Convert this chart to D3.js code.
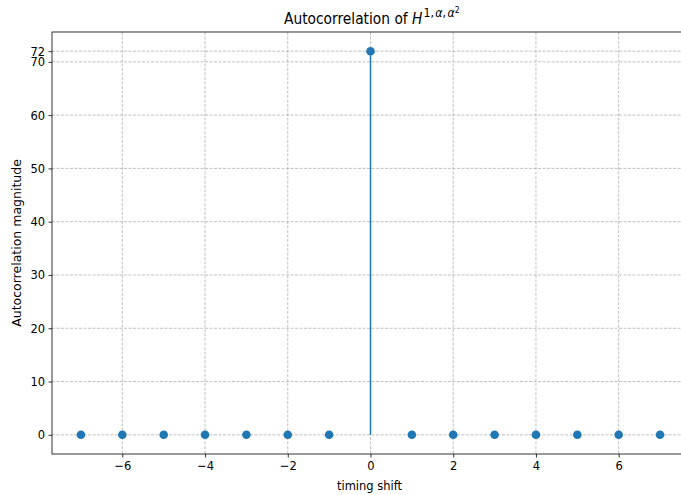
<!DOCTYPE html>
<html><head><meta charset="utf-8">
<script src="https://cdn.jsdelivr.net/npm/d3@7/dist/d3.min.js"></script>
<style>body{margin:0;background:#fff;} svg{display:block;} text{font-family:"DejaVu Sans",sans-serif;fill:#000;}</style>
</head><body>
<script>
const lags = [-7,-6,-5,-4,-3,-2,-1,0,1,2,3,4,5,6,7];
const values = [0,0,0,0,0,0,0,72,0,0,0,0,0,0,0];
const xTicks = [-6,-4,-2,0,2,4,6];
const yTicks = [0,10,20,30,40,50,60,70,72];
const titleMain = "Autocorrelation of ";
const xLabel = "timing shift";
const yLabel = "Autocorrelation magnitude";

const W = 681, H = 495;
const SX = 0.92;
const m = {left:52, right:-8, top:32, bottom:41};
const svg = d3.select("body").append("svg").attr("width",W).attr("height",H);
const x = d3.scaleLinear().domain([-7.7,7.7]).range([m.left, W-m.right]);
const y = d3.scaleLinear().domain([-3.6,75.6]).range([H-m.bottom, m.top]);

const g = svg.append("g");
// grid
g.selectAll(".gx").data(xTicks).enter().append("line")
 .attr("x1",d=>x(d)).attr("x2",d=>x(d)).attr("y1",m.top).attr("y2",H-m.bottom)
 .attr("stroke","#b0b0b0").attr("stroke-width",0.8).attr("stroke-dasharray","3,1.5");
g.selectAll(".gy").data(yTicks).enter().append("line")
 .attr("x1",m.left).attr("x2",W-m.right).attr("y1",d=>y(d)).attr("y2",d=>y(d))
 .attr("stroke","#b0b0b0").attr("stroke-width",0.8).attr("stroke-dasharray","3,1.5");

// stems
const data = lags.map((l,i)=>({l, v:values[i]}));
g.selectAll(".stem").data(data.filter(d=>d.v!==0)).enter().append("line")
 .attr("x1",d=>x(d.l)).attr("x2",d=>x(d.l)).attr("y1",y(0)).attr("y2",d=>y(d.v))
 .attr("stroke","#1f77b4").attr("stroke-width",1.5);
g.selectAll(".pt").data(data).enter().append("circle")
 .attr("cx",d=>x(d.l)).attr("cy",d=>y(d.v)).attr("r",4.3).attr("fill","#1f77b4");

// axes
const fmt = d=> d<0 ? "\u2212"+Math.abs(d) : String(d);
const xa = svg.append("g").attr("transform",`translate(0,${H-m.bottom})`)
 .call(d3.axisBottom(x).tickValues(xTicks).tickFormat(fmt).tickSize(3.5).tickPadding(3.5));
const ya = svg.append("g").attr("transform",`translate(${m.left},0)`)
 .call(d3.axisLeft(y).tickValues(yTicks).tickFormat(fmt).tickSize(3.5).tickPadding(3.5));
[xa,ya].forEach(a=>{a.selectAll("text").style("font-size","12.5px").attr("fill","#000")
   .attr("transform",`scale(${SX},1)`);
 a.selectAll("line").attr("stroke","#000").attr("stroke-width",0.8);
 a.select(".domain").remove();});
ya.selectAll("text").attr("x",-7/SX);
// spines
svg.append("rect").attr("x",m.left).attr("y",m.top).attr("width",W-m.right-m.left).attr("height",H-m.bottom-m.top)
 .attr("fill","none").attr("stroke","#000").attr("stroke-width",0.8);

// labels
svg.append("text").attr("transform",`translate(369.5,${H-5}) scale(${SX},1)`).attr("text-anchor","middle")
 .style("font-size","12.5px").text(xLabel);
svg.append("text").attr("transform",`translate(21,${(m.top+H-m.bottom)/2}) rotate(-90)`)
 .attr("text-anchor","middle").style("font-size","12.5px").text(yLabel);

const t = svg.append("text").attr("transform",`translate(284,24) scale(${SX},1)`).attr("text-anchor","start").style("font-size","15px");
t.append("tspan").text(titleMain);
t.append("tspan").style("font-style","italic").text("H");
t.append("tspan").attr("dy",-7).attr("dx",1).style("font-size","12px").text("1,");
t.append("tspan").attr("dx",1.5).style("font-size","12px").style("font-style","italic").text("α");
t.append("tspan").style("font-size","12px").text(",");
t.append("tspan").attr("dx",1.5).style("font-size","12px").style("font-style","italic").text("α");
t.append("tspan").attr("dy",-4).style("font-size","8.5px").text("2");
</script>
</body></html>
